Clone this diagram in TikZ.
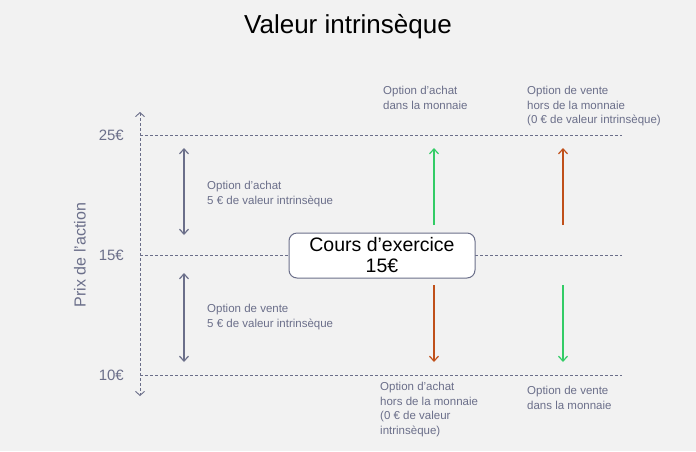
\documentclass[tikz,border=0pt]{standalone}
\usepackage{fontspec}
\setmainfont{Liberation Sans}
\usetikzlibrary{arrows.meta,positioning}
\definecolor{axisgray}{HTML}{6B6F8A}
\definecolor{callgreen}{HTML}{33CC66}
\definecolor{putorange}{HTML}{C0501A}
\definecolor{bggray}{HTML}{F2F2F2}
\tikzset{
  level/.style={axisgray,dashed,dash pattern=on 3pt off 2pt,line width=0.9pt},
  note/.style={text=axisgray,font=\fontsize{11.5}{14.5}\selectfont,align=left,anchor=north west,inner sep=0pt},
  price/.style={text=axisgray,font=\fontsize{15}{17}\selectfont,anchor=east,inner sep=0pt},
  move/.style={line width=1.2pt,-{Straight Barb[length=5pt,width=9pt]}},
}
\begin{document}
\begin{tikzpicture}[x=1pt,y=-1pt]
\fill[bggray] (0,0) rectangle (696,451);
\useasboundingbox (0,0) rectangle (696,451);

\node[font=\fontsize{26}{30}\selectfont] (title) at (348,27) {Valeur intrinsèque};

% levels
\foreach \y/\lab/\nm in {135/25€/top,255/15€/mid,375/10€/low}{
  \coordinate (\nm L) at (140,\y);
  \coordinate (\nm R) at (622,\y);
  \draw[level] (\nm L) -- (\nm R);
  \node[price] (p\nm) at (124,\y) {\lab};
}
\coordinate (axisT) at (140,112);
\coordinate (axisB) at (140,396);
\draw[level,{Straight Barb[length=4pt,width=9pt]}-{Straight Barb[length=4pt,width=9pt]}] (axisT) -- (axisB);
\node[text=axisgray,rotate=90,font=\fontsize{16}{18}\selectfont] (ylab) at (80,255) {Prix de l’action};

% spreads
\coordinate (s1) at (184,148); \coordinate (s2) at (184,235);
\coordinate (s3) at (184,273); \coordinate (s4) at (184,362);
\draw[axisgray,line width=1.2pt,{Straight Barb[length=5pt,width=9pt]}-{Straight Barb[length=5pt,width=9pt]}] (s1) -- (s2);
\draw[axisgray,line width=1.2pt,{Straight Barb[length=5pt,width=9pt]}-{Straight Barb[length=5pt,width=9pt]}] (s3) -- (s4);
\node[note] (callnote) at (207,181) {Option d’achat\\5 € de valeur intrinsèque};
\node[note] (putnote) at (207,304) {Option de vente\\5 € de valeur intrinsèque};

% strike box
\node[draw=axisgray,fill=white,rounded corners=8pt,line width=1pt,minimum width=186pt,minimum height=45pt,
  align=center,font=\fontsize{19.5}{21}\selectfont] (strike) at (382,255.5) {Cours d’exercice\\15€};

% moves
\coordinate (a1) at (434,225); \coordinate (a2) at (434,148);
\coordinate (b1) at (563,225); \coordinate (b2) at (563,148);
\coordinate (c1) at (434,285); \coordinate (c2) at (434,362);
\coordinate (d1) at (563,285); \coordinate (d2) at (563,362);
\draw[move,callgreen] (a1) -- (a2);
\draw[move,putorange] (b1) -- (b2);
\draw[move,putorange] (c1) -- (c2);
\draw[move,callgreen] (d1) -- (d2);

\node[note] (callin) at (383,86) {Option d’achat\\dans la monnaie};
\node[note] (putout) at (527,86) {Option de vente\\hors de la monnaie\\(0 € de valeur intrinsèque)};
\node[note] (callout) at (380,382) {Option d’achat\\hors de la monnaie\\(0 € de valeur\\intrinsèque)};
\node[note] (putin) at (527,386) {Option de vente\\dans la monnaie};
\end{tikzpicture}
\end{document}
